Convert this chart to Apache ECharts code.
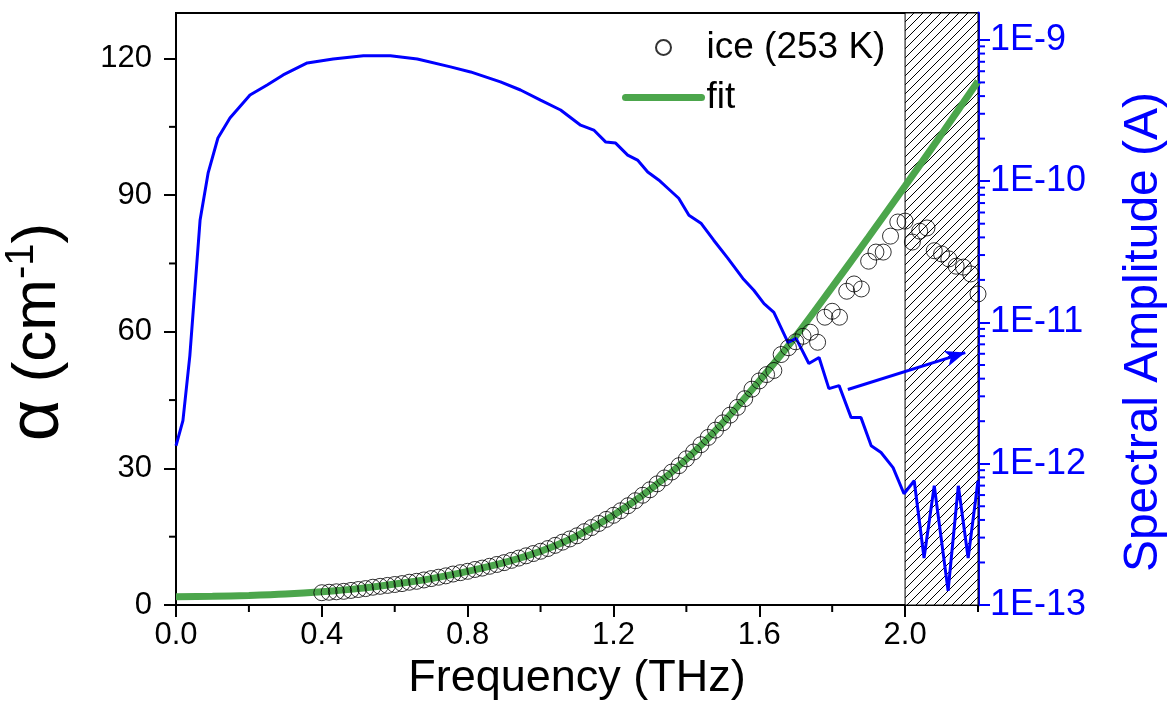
<!DOCTYPE html>
<html>
<head>
<meta charset="utf-8">
<script src="https://cdn.jsdelivr.net/npm/echarts@6/dist/echarts.min.js"></script>
<style>
html,body{margin:0;padding:0;background:#fff;}
#chart{width:1172px;height:716px;}
</style>
</head>
<body>
<div id="chart"></div>
<script>
// ---- data ----
const fitFreq  = [0.0,0.1,0.2,0.3,0.4,0.5,0.6,0.7,0.8,0.9,1.0,1.1,1.2,1.3,1.4,1.5,1.6,1.7,1.8,1.9,2.0,2.1,2.2];
const fitAlpha = [1.8,1.9,2.1,2.4,2.9,3.6,4.6,5.8,7.4,9.3,11.8,15.2,19.7,25.3,32.0,40.0,49.2,59.0,69.8,80.8,92.0,103.4,115.0];

const iceFreq  = [0.40,0.42,0.44,0.46,0.48,0.50,0.52,0.54,0.56,0.58,0.60,0.62,0.64,0.66,0.68,0.70,0.72,0.74,0.76,0.78,
                  0.80,0.82,0.84,0.86,0.88,0.90,0.92,0.94,0.96,0.98,1.00,1.02,1.04,1.06,1.08,1.10,1.12,1.14,1.16,1.18,
                  1.20,1.22,1.24,1.26,1.28,1.30,1.32,1.34,1.36,1.38,1.40,1.42,1.44,1.46,1.48,1.50,1.52,1.54,1.56,1.58,
                  1.60,1.62,1.64,1.66,1.68,1.70,1.72,1.74,1.76,1.78,1.80,1.82,1.84,1.86,1.88,1.90,1.92,1.94,1.96,1.98,
                  2.00,2.02,2.04,2.06,2.08,2.10,2.12,2.14,2.16,2.18,2.20];
const iceAlpha = [2.7,2.8,2.9,3.0,3.2,3.4,3.6,3.9,4.1,4.3,4.5,4.7,5.0,5.2,5.5,5.8,6.1,6.4,6.8,7.1,
                  7.4,7.8,8.1,8.5,8.9,9.3,9.8,10.3,10.8,11.3,11.8,12.4,13.1,13.8,14.5,15.2,16.1,17.0,17.9,18.8,
                  19.7,20.7,21.8,22.9,24.1,25.3,26.6,27.9,29.2,30.6,32.1,33.6,35.2,36.8,38.4,40.0,41.7,43.4,45.3,47.4,
                  49.2,50.6,51.5,55.0,56.5,57.8,59.0,59.9,57.7,63.2,64.5,63.2,68.9,70.5,69.4,75.5,77.5,77.5,81.0,84.1,
                  84.3,79.7,82.1,82.8,77.8,77.1,76.0,74.4,74.2,72.7,68.3];

const ampFreq  = [0.000,0.019,0.038,0.066,0.088,0.115,0.148,0.203,0.250,0.294,0.360,0.431,0.514,0.588,0.662,0.753,0.808,0.890,0.945,1.000,
                  1.055,1.110,1.146,1.179,1.206,1.239,1.266,1.294,1.324,1.349,1.379,1.407,1.440,1.475,1.514,1.555,1.585,1.613,1.640,1.679,
                  1.701,1.736,1.764,1.791,1.819,1.852,1.879,1.907,1.934,1.967,1.997,2.025,2.052,2.080,2.118,2.146,2.173,2.200];
const ampValue = [1.34e-12,2.02e-12,5.83e-12,5.28e-11,1.14e-10,2.02e-10,2.80e-10,4.07e-10,4.80e-10,5.65e-10,6.87e-10,7.33e-10,7.71e-10,7.71e-10,7.33e-10,6.44e-10,5.93e-10,5.04e-10,4.42e-10,3.75e-10,
                  3.19e-10,2.49e-10,2.30e-10,1.89e-10,1.86e-10,1.53e-10,1.41e-10,1.16e-10,1.02e-10,8.91e-11,7.57e-11,5.74e-11,5.04e-11,3.82e-11,2.84e-11,2.05e-11,1.69e-11,1.36e-11,1.18e-11,7.21e-12,
                  7.71e-12,5.12e-12,5.65e-12,3.40e-12,3.57e-12,2.12e-12,2.12e-12,1.34e-12,1.20e-12,9.38e-13,6.13e-13,7.57e-13,2.15e-13,6.98e-13,1.26e-13,6.98e-13,2.15e-13,7.57e-13];

// arrow pointing to the right axis: [freq, amplitude]
const arrowStart = [1.843, 3.35e-12];
const arrowEnd   = [2.165, 6.12e-12];

// shaded (hatched) frequency band
const hatchBand = [2.0, 2.2];

// ticks
const xMajorTicks = [0.0,0.4,0.8,1.2,1.6,2.0];
const xMinorTicks = [0.2,0.6,1.0,1.4,1.8,2.2];
const yMajorTicks = [0,30,60,90,120];
const yMinorTicks = [15,45,75,105];
const ampMajorTicks = [1e-13,1e-12,1e-11,1e-10,1e-9];
const ampMinorTicks = [2e-13,3e-13,4e-13,5e-13,6e-13,7e-13,8e-13,9e-13,
                       2e-12,3e-12,4e-12,5e-12,6e-12,7e-12,8e-12,9e-12,
                       2e-11,3e-11,4e-11,5e-11,6e-11,7e-11,8e-11,9e-11,
                       2e-10,3e-10,4e-10,5e-10,6e-10,7e-10,8e-10,9e-10];

// ---- chart ----
const FONT = '"Liberation Sans", Arial, Helvetica, sans-serif';
const GREEN = '#4CA64C';
const BLUE = '#0000FF';

function hatchPattern(){
  const s = 9;
  const c = document.createElement('canvas');
  c.width = s; c.height = s;
  const g = c.getContext('2d');
  g.fillStyle = '#fff'; g.fillRect(0,0,s,s);
  g.strokeStyle = '#000'; g.lineWidth = 1;
  g.beginPath();
  g.moveTo(0,s); g.lineTo(s,0);
  g.moveTo(-1,1); g.lineTo(1,-1);
  g.moveTo(s-1,s+1); g.lineTo(s+1,s-1);
  g.stroke();
  return c;
}

function zipPairs(a,b){ return a.map((v,i)=>[v,b[i]]); }

function minorTickSeries(name, values, axis, len){
  let data;
  if (axis === 'x') data = values.map(v=>[v,0]);
  else if (axis === 'y') data = values.map(v=>[0,v]);
  else data = values.map(v=>[2.2,v]);
  return {
    type:'custom', name:name, silent:true, clip:false, z:6,
    xAxisIndex:0, yAxisIndex: axis === 'amp' ? 1 : 0,
    data:data,
    renderItem:function(params, api){
      const p = api.coord([api.value(0), api.value(1)]);
      let shape, color = '#000';
      if (axis === 'x') shape = {x1:p[0], y1:p[1], x2:p[0], y2:p[1]+len};
      else if (axis === 'y') shape = {x1:p[0]-len, y1:p[1], x2:p[0], y2:p[1]};
      else { shape = {x1:p[0], y1:p[1], x2:p[0]+len, y2:p[1]}; color = BLUE; }
      return {type:'line', shape:shape, style:{stroke:color, lineWidth:2}};
    }
  };
}

const chart = echarts.init(document.getElementById('chart'), null, {renderer:'canvas'});

const option = {
  animation:false,
  backgroundColor:'#fff',
  grid:{left:176, right:194, top:13, bottom:111, outerBoundsMode:'none', containLabel:false,
        show:true, borderColor:'#000', borderWidth:2, backgroundColor:'transparent'},
  legend:{
    orient:'vertical', left:617, top:24, itemWidth:76, itemHeight:15, itemGap:13,
    textStyle:{fontFamily:FONT, fontSize:37, color:'#000'},
    lineStyle:{width:7, cap:'round'},
    data:['ice (253 K)', {name:'fit', itemStyle:{opacity:0, color:'rgba(0,0,0,0)', borderWidth:0}}]
  },
  xAxis:{
    type:'value', min:0, max:2.2, interval:0.4,
    name:'Frequency (THz)', nameLocation:'middle', nameGap:44,
    nameTextStyle:{fontFamily:FONT, fontSize:45, color:'#000'},
    axisLine:{show:true, onZero:false, lineStyle:{color:'#000', width:2}},
    axisTick:{show:true, inside:false, length:12, lineStyle:{color:'#000', width:2}, customValues:xMajorTicks},
    axisLabel:{fontFamily:FONT, fontSize:31, color:'#000', margin:15,
      customValues:xMajorTicks, formatter:v=>v.toFixed(1)},
    splitLine:{show:false}
  },
  yAxis:[{
    type:'value', min:0, max:130, interval:30, position:'left',
    name:'{al|α}{a| (cm}{s|-1}{a|)}', nameLocation:'middle', nameRotate:90, nameGap:102,
    nameTextStyle:{fontFamily:FONT, color:'#000', padding:[0,46,0,0],
      rich:{al:{fontFamily:FONT, fontSize:72, color:'#000'},
            a:{fontFamily:FONT, fontSize:62, color:'#000'},
            s:{fontFamily:FONT, fontSize:40, color:'#000', verticalAlign:'top'}}},
    axisLine:{show:true, onZero:false, lineStyle:{color:'#000', width:2}},
    axisTick:{show:true, inside:false, length:12, lineStyle:{color:'#000', width:2}, customValues:yMajorTicks},
    axisLabel:{fontFamily:FONT, fontSize:31, color:'#000', margin:24, customValues:yMajorTicks},
    splitLine:{show:false}
  },{
    type:'log', logBase:10, min:1e-13, max:1.55e-9, position:'right',
    name:'Spectral Amplitude (A)', nameLocation:'middle', nameRotate:90, nameGap:142,
    nameTextStyle:{fontFamily:FONT, fontSize:48, color:BLUE, padding:[0,46,0,0]},
    axisLine:{show:true, onZero:false, lineStyle:{color:BLUE, width:3}},
    axisTick:{show:true, inside:false, length:12, lineStyle:{color:BLUE, width:2}, customValues:ampMajorTicks},
    axisLabel:{fontFamily:FONT, fontSize:36, color:BLUE, margin:12, customValues:ampMajorTicks,
      formatter:v=>'1E' + Math.round(Math.log10(v))},
    splitLine:{show:false}
  }],
  series:[
    {
      type:'line', name:'fit', xAxisIndex:0, yAxisIndex:0, z:2,
      data:zipPairs(fitFreq, fitAlpha), smooth:0.3, symbol:'none', showSymbol:false,
      lineStyle:{color:GREEN, width:7}, itemStyle:{color:GREEN},
      markArea:{silent:true,
        itemStyle:{color:{image:hatchPattern(), repeat:'repeat'}, borderColor:'#000', borderWidth:1},
        data:[[{xAxis:hatchBand[0]},{xAxis:hatchBand[1]}]]}
    },
    {
      type:'scatter', name:'ice (253 K)', xAxisIndex:0, yAxisIndex:0, z:4,
      data:zipPairs(iceFreq, iceAlpha), symbol:'circle', symbolSize:16,
      itemStyle:{color:'rgba(255,255,255,0)', borderColor:'#000', borderWidth:1}
    },
    {
      type:'line', name:'amplitude', xAxisIndex:0, yAxisIndex:1, z:3,
      data:zipPairs(ampFreq, ampValue), symbol:'none', showSymbol:false,
      lineStyle:{color:BLUE, width:3}, itemStyle:{color:BLUE},
      markLine:{silent:true, symbol:['none','arrow'], symbolSize:[12,20],
        lineStyle:{color:BLUE, width:3, type:'solid'}, label:{show:false},
        data:[[{coord:arrowStart},{coord:arrowEnd}]]}
    },
    minorTickSeries('xminor', xMinorTicks, 'x', 7),
    minorTickSeries('yminor', yMinorTicks, 'y', 7),
    minorTickSeries('ampminor', ampMinorTicks, 'amp', 7)
  ]
};
chart.setOption(option);
</script>
</body>
</html>
